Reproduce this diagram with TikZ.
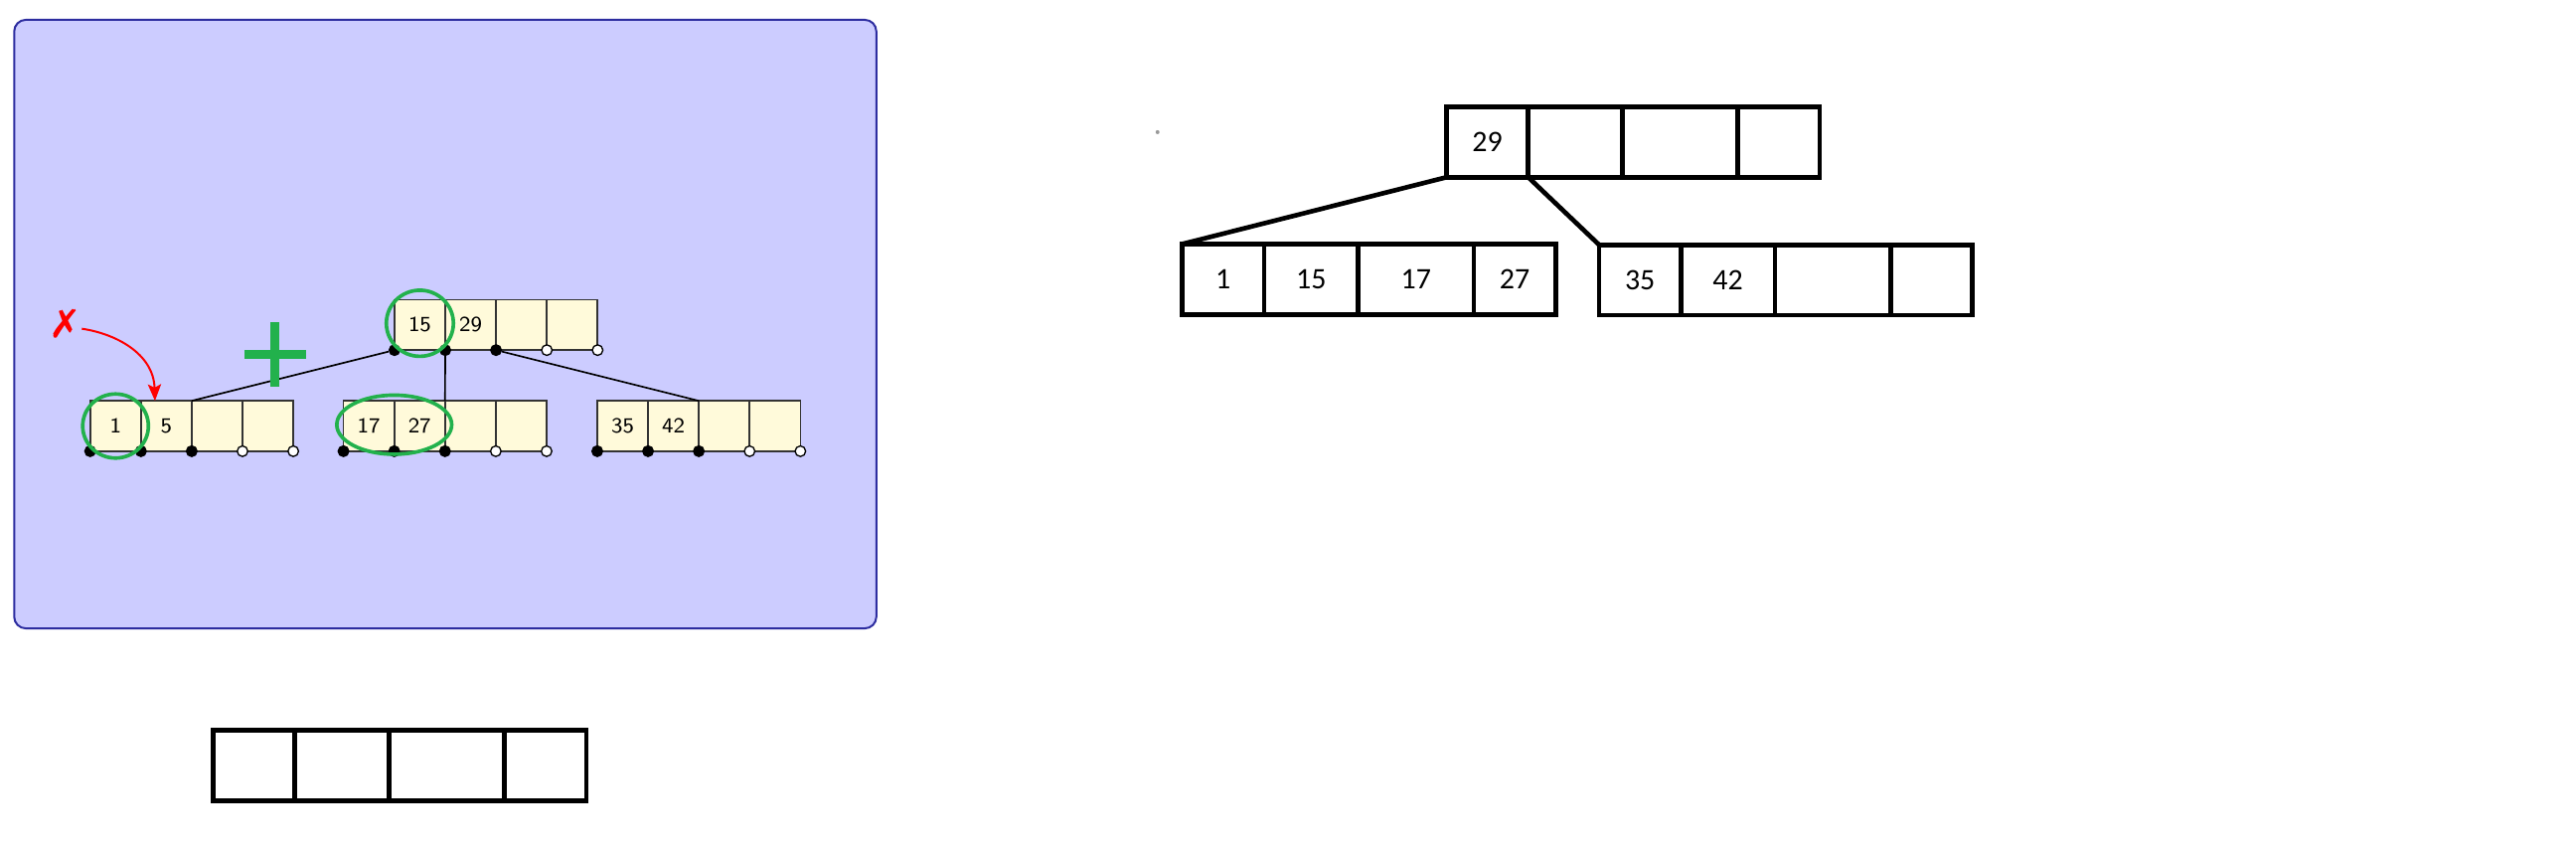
\documentclass[tikz,border=0pt]{standalone}
\usepackage{fontspec}
\newfontfamily\paintfont{Carlito}
\usepackage{pifont}
\usetikzlibrary{positioning,arrows.meta,shapes.geometric}
\definecolor{panelblue}{RGB}{204,204,255}
\definecolor{paneledge}{RGB}{45,45,160}
\definecolor{keyyellow}{RGB}{255,250,218}
\definecolor{paintgreen}{RGB}{34,177,76}
\begin{document}
\begin{tikzpicture}[x=0.5pt,y=-0.5pt,
	key cell/.style = {draw=black!80, fill=keyyellow, line width=0.5pt, minimum width=15.375pt, minimum height=15.25pt,
		inner sep=0pt, outer sep=0pt, font=\sffamily\fontsize{6.5}{8}\selectfont},
	ptr dot/.style = {circle, draw=black, fill=black, line width=0.4pt, minimum size=3.2pt, inner sep=0pt},
	nil dot/.style = {ptr dot, fill=white},
	ring/.style = {ellipse, draw=paintgreen, line width=1.1pt, inner sep=0pt},
	paint cell/.style = {draw=black, line width=1.4pt, minimum height=21.3pt, inner sep=0pt, outer sep=0pt,
		font=\paintfont\fontsize{9}{11}\selectfont},
	paint edge/.style = {draw=black, line width=1.4pt}]
	
	\useasboundingbox (0,0) rectangle (1560,515.2);
	
	% left panel
	\draw[fill=panelblue, draw=paneledge, line width=0.6pt, rounded corners=3.5pt] (8.6,12) rectangle (530.7,380.4);
	
	\foreach \row/\x/\y/\ka/\kb in {t/238.9/196.7/15/29, a/54.6/257.9/1/5, b/208/257.9/17/27, c/361.7/257.9/35/42}{
		\node[key cell, anchor=west] (\row1) at (\x,\y) {\ka};
		\node[key cell, right=0pt of \row1] (\row2) {\kb};
		\node[key cell, right=0pt of \row2] (\row3) {};
		\node[key cell, right=0pt of \row3] (\row4) {};
		\node[ptr dot] (\row-0) at (\row1.south west) {};
		\node[ptr dot] (\row-1) at (\row1.south east) {};
		\node[ptr dot] (\row-2) at (\row2.south east) {};
		\node[nil dot] (\row-3) at (\row3.south east) {};
		\node[nil dot] (\row-4) at (\row4.south east) {};
	}
	
	\draw[line width=0.5pt] (t-0) -- (a3.north west);
	\draw[line width=0.5pt] (t-1) -- (b3.north west);
	\draw[line width=0.5pt] (t-2) -- (c3.north west);
	
	% annotations
	\node[ring, minimum width=20.3pt, minimum height=20pt] (ring1) at ([yshift=0.5pt]t1) {};
	\node[ring, minimum width=19.9pt, minimum height=19.4pt] (ring2) at (a1) {};
	\node[ring, minimum width=34.8pt, minimum height=17.9pt] (ring3) at ([yshift=0.4pt]b1.east) {};
	\draw[paintgreen, line width=2.8pt] (166.5,195.2) -- (166.5,234.3) (148.1,214.7) -- (185.2,214.7);
	
	\node[text=red, inner sep=1pt, font=\fontsize{12}{12}\selectfont] (cross) at (39.1,196.2) {\ding{55}};
	\draw[red, line width=0.6pt, -{Stealth[length=5pt, width=4pt, inset=1pt]}]
		([shift={(0.6pt,-1.4pt)}]cross.east) .. controls (70,202) and (93,214) .. ([xshift=4.25pt]a2.north west);
	
	% right side
	\fill[black!40] (701,80) circle (0.6pt);
	\foreach \row/\x/\y/\ka/\kb/\kc/\kd in {m/876/86/29///, p/716/169/1/15/17/27, q/968.4/169.5/35/42//, e/129/463.4////}{
		\node[paint cell, minimum width=24.75pt, anchor=west] (\row1) at (\x,\y) {\ka};
		\node[paint cell, minimum width=28.5pt, right=0pt of \row1] (\row2) {\kb};
		\node[paint cell, minimum width=35pt, right=0pt of \row2] (\row3) {\kc};
		\node[paint cell, minimum width=24.75pt, right=0pt of \row3] (\row4) {\kd};
	}
	
	\draw[paint edge] (m1.south west) -- (p1.north west);
	\draw[paint edge] (m1.south east) -- (q1.north west);
\end{tikzpicture}
\end{document}
